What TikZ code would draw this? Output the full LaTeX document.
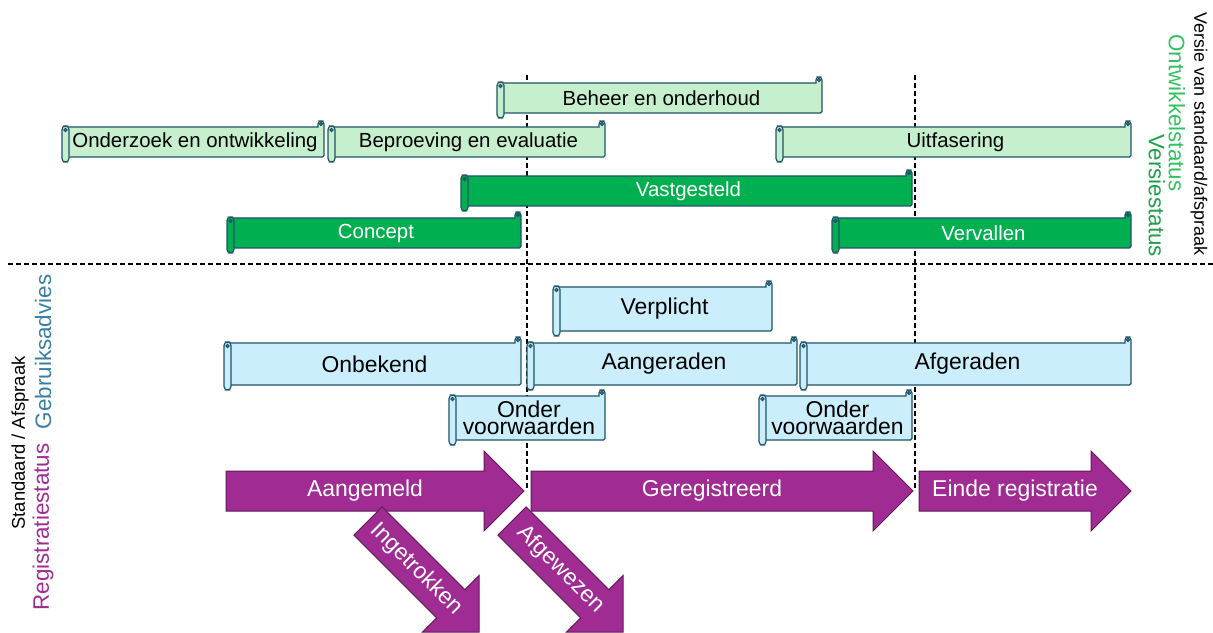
\documentclass[tikz,border=0pt]{standalone}
\usepackage{fontspec}
\setmainfont{Liberation Sans}
\usepackage{tikz}
\usetikzlibrary{positioning}
\definecolor{rolrand}{HTML}{1F5468}
\definecolor{lichtgroen}{HTML}{C6EFCE}
\definecolor{donkergroen}{HTML}{00B050}
\definecolor{lichtblauw}{HTML}{CAEEFB}
\definecolor{paars}{HTML}{A02B93}
\definecolor{paarsrand}{HTML}{5E1A56}
\definecolor{advieskleur}{HTML}{3A7FA3}
\definecolor{ontwkleur}{HTML}{33C15F}
\definecolor{versiekleur}{HTML}{1DA04B}

% boekrol: naam, x links, y boven, x rechts, y onder, stijl, tekst
\newcommand{\rol}[7]{%
  \draw[#6] (#2+4,#5) -- (#2+4,#3) -- (#4-6,#3)
    [rounded corners=3bp] -- (#4-6,#3-6) -- (#4,#3-6)
    [rounded corners=1.5bp] -- (#4,#5) -- cycle;
  \draw[#6] (#4-3,#3-3) circle (1.5bp);
  \draw[#6,rounded corners=3.5bp] (#2,#3-1) rectangle (#2+7,#5+5);
  \draw[#6] (#2+3.5,#3+3) circle (1.5bp);
  \node[#6 tekst] (#1) at ({(#2+4+#4)/2},{(#3+#5)/2}) {#7};
}
% blokpijl: naam, x staart, y staart, lengte, hoek, tekst
\newcommand{\pijl}[6]{%
  \begin{scope}[shift={(#2,#3)},rotate=#5]
    \draw[regpijl] (0,-20) -- (#4-40,-20) -- (#4-40,-40) -- (#4,0)
      -- (#4-40,40) -- (#4-40,20) -- (0,20) -- cycle;
    \node[pijltekst,rotate=#5] (#1) at (#4/2-10,0) {#6};
  \end{scope}
}

\begin{document}
\begin{tikzpicture}[
  x=1bp, y=-1bp,
  fase/.style={draw=rolrand, fill=lichtgroen, line width=1.2bp},
  versie/.style={draw=rolrand, fill=donkergroen, line width=1.2bp},
  advies/.style={draw=rolrand, fill=lichtblauw, line width=1.2bp},
  fase tekst/.style={font=\fontsize{20.5}{24}\selectfont, text=black},
  versie tekst/.style={font=\fontsize{20.5}{24}\selectfont, text=white},
  advies tekst/.style={font=\fontsize{23}{17}\selectfont, align=center, text=black},
  regpijl/.style={draw=paarsrand, fill=paars, line width=1bp},
  pijltekst/.style={font=\fontsize{23}{26}\selectfont, text=white},
  scheiding/.style={black, line width=1.3bp, dash pattern=on 5bp off 3bp},
  zijlabel/.style={font=\fontsize{22.5}{26}\selectfont}
]
\useasboundingbox (0,0) rectangle (1213,633);

% scheidingslijnen
\draw[scheiding] (8,264) -- (1213,264);
\draw[scheiding] (527,75) -- (527,490);
\draw[scheiding] (915,75) -- (915,490);

% ontwikkelstatus
\rol{beheer}{497}{83}{822}{113}{fase}{Beheer en onderhoud}
\rol{onderzoek}{62}{127}{324}{157}{fase}{Onderzoek en ontwikkeling}
\rol{beproeving}{328}{127}{605}{157}{fase}{Beproeving en evaluatie}
\rol{uitfasering}{776}{127}{1131}{157}{fase}{Uitfasering}

% versiestatus
\rol{vastgesteld}{461}{176}{912}{206}{versie}{Vastgesteld}
\rol{concept}{227}{218}{521}{248}{versie}{Concept}
\rol{vervallen}{832}{218}{1131}{248}{versie}{Vervallen}

% gebruiksadvies
\rol{verplicht}{553}{287}{772}{331}{advies}{Verplicht}
\rol{onbekend}{224}{343}{521}{385}{advies}{Onbekend}
\rol{aangeraden}{527}{343}{797}{385}{advies}{Aangeraden}
\rol{afgeraden}{800}{343}{1131}{385}{advies}{Afgeraden}
\rol{voorwaarden1}{449}{396}{605}{440}{advies}{Onder\\voorwaarden}
\rol{voorwaarden2}{759}{396}{912}{440}{advies}{Onder\\voorwaarden}

% registratiestatus
\pijl{aangemeld}{226}{491}{298}{0}{Aangemeld}
\pijl{geregistreerd}{531}{491}{382}{0}{Geregistreerd}
\pijl{einde}{919}{491}{212}{0}{Einde registratie}
\pijl{ingetrokken}{368}{521}{157}{-45}{Ingetrokken}
\pijl{afgewezen}{512}{521}{157}{-45}{Afgewezen}

% zijlabels
\node[rotate=90, font=\fontsize{18.5}{20}\selectfont] (standaard) at (20,443) {Standaard / Afspraak};
\node[rotate=90, zijlabel, text=paars] (registratie) at (43,527) {Registratiestatus};
\node[rotate=90, zijlabel, text=advieskleur] (gebruik) at (43,352) {Gebruiksadvies};
\node[rotate=-90, font=\fontsize{18}{20}\selectfont] (versievan) at (1199,134) {Versie van standaard/afspraak};
\node[rotate=-90, zijlabel, text=ontwkleur] (ontwikkel) at (1177,113) {Ontwikkelstatus};
\node[rotate=-90, zijlabel, text=versiekleur] (versiestatus) at (1157,196) {Versiestatus};

\end{tikzpicture}
\end{document}
